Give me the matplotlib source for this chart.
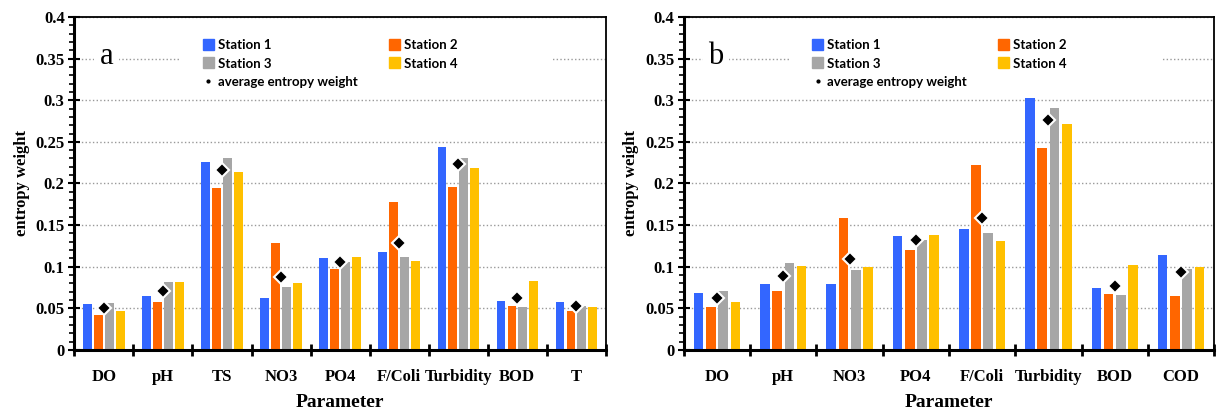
import matplotlib
matplotlib.use("Agg")
from matplotlib import pyplot as plt
from matplotlib.lines import Line2D
from matplotlib.patches import Patch, Rectangle
import numpy as np

# panel a
params_a = ["DO", "pH", "TS", "NO3", "PO4", "F/Coli", "Turbidity", "BOD", "T"]
s1_a = [0.055, 0.065, 0.226, 0.062, 0.110, 0.117, 0.244, 0.059, 0.057]
s2_a = [0.042, 0.057, 0.194, 0.129, 0.097, 0.178, 0.196, 0.053, 0.047]
s3_a = [0.056, 0.081, 0.231, 0.075, 0.105, 0.111, 0.231, 0.051, 0.053]
s4_a = [0.047, 0.081, 0.214, 0.080, 0.111, 0.107, 0.219, 0.083, 0.051]
avg_a = [0.050, 0.071, 0.216, 0.087, 0.105, 0.129, 0.223, 0.062, 0.053]

# panel b
params_b = ["DO", "pH", "NO3", "PO4", "F/Coli", "Turbidity", "BOD", "COD"]
s1_b = [0.068, 0.079, 0.079, 0.137, 0.145, 0.303, 0.074, 0.114]
s2_b = [0.051, 0.071, 0.159, 0.120, 0.222, 0.243, 0.067, 0.065]
s3_b = [0.071, 0.104, 0.096, 0.132, 0.140, 0.291, 0.066, 0.097]
s4_b = [0.057, 0.101, 0.099, 0.138, 0.131, 0.271, 0.102, 0.099]
avg_b = [0.062, 0.089, 0.109, 0.132, 0.159, 0.276, 0.077, 0.093]

stations = ["Station 1", "Station 2", "Station 3", "Station 4"]
colors = ["#3366FF", "#FF6600", "#A6A6A6", "#FFC000"]

serif = "Liberation Serif"
legfont = "Lato"


def panel(ax, params, series, avg, letter):
    x = np.arange(len(params))
    pitch = 0.185
    width = 0.145
    for i, vals in enumerate(series):
        ax.bar(x + (i - 1.5) * pitch, vals, width, color=colors[i], zorder=2)
    ax.plot(x, avg, linestyle="none", marker="D", markersize=7,
            markerfacecolor="black", markeredgecolor="white",
            markeredgewidth=1.5, zorder=3)

    ax.set_xlim(-0.5, len(params) - 0.5)
    ax.set_ylim(0, 0.4)
    ax.set_yticks(np.arange(0, 0.401, 0.05))
    ax.set_yticklabels(["0", "0.05", "0.1", "0.15", "0.2", "0.25", "0.3", "0.35", "0.4"])
    ax.set_yticks(np.arange(0, 0.401, 0.01), minor=True)
    ax.set_xticks(x)
    ax.set_xticklabels(params)
    ax.set_xticks(np.arange(-0.5, len(params), 1.0), minor=True)

    ax.tick_params(axis="x", which="major", length=0, pad=14)
    ax.tick_params(axis="x", which="minor", length=8, width=2, direction="inout")
    ax.tick_params(axis="y", which="major", length=8, width=1.5, direction="inout", pad=3)
    ax.tick_params(axis="y", which="minor", length=3.5, width=1.2, direction="out")
    for lab in ax.get_xticklabels() + ax.get_yticklabels():
        lab.set_fontfamily(serif)
        lab.set_fontweight("bold")
        lab.set_fontsize(12)

    ax.yaxis.grid(True, which="major", linestyle=":", color="#999999", linewidth=1)
    ax.set_axisbelow(True)
    for side in ["left", "bottom"]:
        ax.spines[side].set_linewidth(2.2)
    for side in ["top", "right"]:
        ax.spines[side].set_linewidth(1.3)

    ax.set_ylabel("entropy weight", fontfamily=serif, fontweight="bold", fontsize=12, labelpad=4)
    ax.set_xlabel("Parameter", fontfamily=serif, fontweight="bold", fontsize=14, labelpad=6)

    # white area behind legend and letter
    ax.add_patch(Rectangle((0.20, 0.79), 0.70, 0.17, transform=ax.transAxes,
                           facecolor="white", edgecolor="none", zorder=1))
    ax.text(0.06, 0.88, letter, transform=ax.transAxes, fontfamily=serif,
            fontsize=22, ha="center", va="center", zorder=4,
            bbox=dict(facecolor="white", edgecolor="none", pad=4))

    handles = [Patch(color=colors[0]), Patch(color=colors[2]),
               Line2D([], [], linestyle="none", marker=".", markersize=4, color="black"),
               Patch(color=colors[1]), Patch(color=colors[3])]
    labels = [stations[0], stations[2], "average entropy weight", stations[1], stations[3]]
    leg = ax.legend(handles, labels, ncol=2, loc="upper left",
                    bbox_to_anchor=(0.22, 0.97), frameon=False,
                    prop={"family": legfont, "weight": "bold", "size": 9.5},
                    handlelength=0.8, handleheight=0.9, handletextpad=0.3,
                    columnspacing=2.4, labelspacing=0.5)
    leg.set_zorder(5)


fig = plt.figure(figsize=(12.19, 4.15), dpi=100)
ax1 = fig.add_axes([0.061, 0.157, 0.436, 0.802])
ax2 = fig.add_axes([0.561, 0.157, 0.435, 0.802])

panel(ax1, params_a, [s1_a, s2_a, s3_a, s4_a], avg_a, "a")
panel(ax2, params_b, [s1_b, s2_b, s3_b, s4_b], avg_b, "b")

fig.savefig("out.png", dpi=100)
